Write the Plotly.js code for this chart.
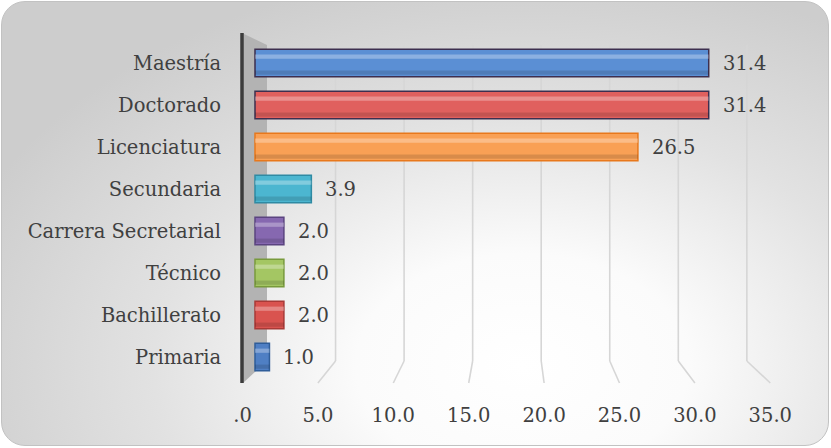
<!DOCTYPE html>
<html><head><meta charset="utf-8">
<script src="https://cdn.plot.ly/plotly-3.0.1.min.js"></script>
<style>
html,body{margin:0;padding:0;background:#ffffff;}
#bg{position:absolute;left:1px;top:1px;width:826px;height:443px;border:1.5px solid #c2c2c2;border-radius:24px;
background:radial-gradient(ellipse 72% 90% at 63% 82%, #ffffff 0%, #fbfbfb 28%, #e2e2e2 62%, #cdcdcd 100%);}
#chart{position:absolute;left:0;top:0;width:831px;height:448px;}
</style></head><body><div id="bg"></div><div id="chart"></div>
<script>
// ---- data ----
const categories = ['Maestría','Doctorado','Licenciatura','Secundaria','Carrera Secretarial','Técnico','Bachillerato','Primaria'];
const values = [31.4, 31.4, 26.5, 3.9, 2.0, 2.0, 2.0, 1.0];
const fillColors = ['#5b8fd4','#e0605e','#f9a055','#4cb6d0','#8668b0','#a4c663','#d9534f','#4f7fc4'];
const lineColors = ['#3d2f4f','#3d2f4f','#e8781c','#2f8aa3','#5b4480','#789a3c','#a83a37','#2f5d99'];
const tickValues = [0, 5, 10, 15, 20, 25, 30, 35];
const tickLabels = ['.0','5.0','10.0','15.0','20.0','25.0','30.0','35.0'];
const valueLabels = values.map(v => v.toFixed(1));

// ---- geometry ----
const W = 831, H = 448, L = 242, R = 831, T = 42, B = 378;
const px = x => (x - L) / (R - L);
const py = y => (B - y) / (B - T);
const backX = v => 267 + 13.71 * v;
const frontX = v => 242.5 + 15.08 * v;
const barZero = 255, barK = 14.45;
const frontZero = 242.5, frontK = 15.08;

const FONT = {family: '"DejaVu Serif", serif', size: 19.5, color: '#404040'};

const shapes = [];
// side wall
shapes.push({type:'path', xref:'paper', yref:'paper', layer:'below',
  path:`M ${px(242)} ${py(33)} L ${px(267)} ${py(45)} L ${px(267)} ${py(361)} L ${px(243)} ${py(383)} Z`,
  fillcolor:'#b3b3b3', line:{width:0}});
// gridlines (back wall + floor slant)
tickValues.filter(v => v > 0).forEach(v => {
  shapes.push({type:'line', xref:'paper', yref:'paper', layer:'below',
    x0:px(backX(v)), x1:px(backX(v)), y0:py(45), y1:py(361), line:{color:'#d6d6d6', width:1.6}});
  shapes.push({type:'line', xref:'paper', yref:'paper', layer:'below',
    x0:px(backX(v)), x1:px(frontX(v)), y0:py(361), y1:py(383), line:{color:'#d6d6d6', width:1.6}});
});
// axis line
shapes.push({type:'line', xref:'paper', yref:'paper', layer:'above',
  x0:px(242), x1:px(242), y0:py(33), y1:py(383), line:{color:'#3c3c3c', width:3.5}});

const traces = [
  {type:'bar', orientation:'h', y:categories, x:values, width:0.66,
   marker:{color:fillColors, line:{color:lineColors, width:1.5}}, hoverinfo:'skip', showlegend:false},
  {type:'bar', orientation:'h', y:categories, x:values, width:0.1, offset:-0.2,
   marker:{color:'rgba(255,255,255,0.30)', line:{width:0}}, hoverinfo:'skip', showlegend:false},
  {type:'bar', orientation:'h', y:categories, x:values, width:0.1, offset:0.18,
   marker:{color:'rgba(0,0,0,0.13)', line:{width:0}}, hoverinfo:'skip', showlegend:false},
  {type:'scatter', mode:'none', x:tickValues, y:tickValues.map(() => categories[0]),
   xaxis:'x2', yaxis:'y', hoverinfo:'skip', showlegend:false}
];

const annotations = categories.map((c, i) => ({
  x: values[i], y: c, xref:'x', yref:'y', text: valueLabels[i], showarrow:false,
  xanchor:'left', yanchor:'middle', xshift:12, font:FONT
}));

const layout = {
  width:W, height:H,
  margin:{l:L, r:W-R, t:T, b:H-B, pad:0},
  paper_bgcolor:'rgba(0,0,0,0)', plot_bgcolor:'rgba(0,0,0,0)',
  barmode:'overlay',
  font:FONT,
  xaxis:{range:[(L-barZero)/barK, (L-barZero)/barK + (R-L)/barK], showticklabels:false, showgrid:false,
         zeroline:false, showline:false, ticks:'', fixedrange:true},
  xaxis2:{overlaying:'x', anchor:'y', side:'bottom',
          range:[(L-frontZero)/frontK, (L-frontZero)/frontK + (R-L)/frontK],
          tickmode:'array', tickvals:tickValues, ticktext:tickLabels,
          ticks:'outside', ticklen:20, tickcolor:'rgba(0,0,0,0)',
          showgrid:false, zeroline:false, showline:false, tickfont:FONT, automargin:false},
  yaxis:{type:'category', range:[categories.length-0.5, -0.5], showgrid:false, zeroline:false, showline:false,
         ticks:'outside', ticklen:16, tickcolor:'rgba(0,0,0,0)', tickfont:FONT, automargin:false},
  shapes:shapes,
  annotations:annotations
};

Plotly.newPlot('chart', traces, layout, {displayModeBar:false, staticPlot:true});
</script></body></html>
